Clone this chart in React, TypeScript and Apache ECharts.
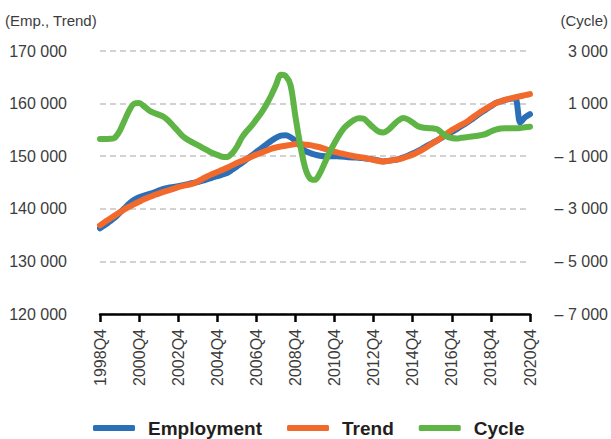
import React, { useEffect, useRef } from "react";
import * as echarts from "echarts";

const quarters: string[] = [];
for (let y = 1998; y <= 2020; y++) {
  for (let q = 1; q <= 4; q++) {
    if (y === 1998 && q < 4) continue;
    quarters.push(`${y}Q${q}`);
  }
}

const employment = [
  136300, 136900, 137600, 138300, 139200, 140100, 141000, 141700, 142200, 142500,
  142800, 143100, 143450, 143800, 144000, 144150, 144300, 144500, 144700, 144900,
  145100, 145350, 145650, 145950, 146200, 146500, 146800, 147400, 148050, 148700,
  149400, 150100, 150800, 151500, 152200, 152900, 153500, 153900, 154000, 153600,
  152900, 151900, 151000, 150600, 150300, 150100, 150000, 150000, 150000, 149950,
  149900, 149800, 149750, 149700, 149600, 149500, 149350, 149200, 149000, 149100,
  149250, 149400, 149750, 150100, 150500, 150950, 151450, 152000, 152500, 153000,
  153550, 154050, 154600, 155150, 155750, 156300, 156950, 157650, 158300, 158900,
  159500, 160100, 160400, 160700, 160900, 161000, 156400, 157400, 158000,
];

const trend = [
  136850, 137500, 138100, 138700, 139300, 139900, 140400, 140900, 141350, 141800,
  142200, 142550, 142900, 143200, 143500, 143800, 144100, 144350, 144550, 144800,
  145200, 145700, 146200, 146600, 147000, 147400, 147800, 148250, 148700, 149100,
  149500, 149900, 150300, 150650, 151050, 151400, 151650, 151850, 152000, 152150,
  152300, 152300, 152200, 152100, 151900, 151700, 151400, 151100, 150850, 150600,
  150400, 150200, 150000, 149850, 149700, 149500, 149300, 149100, 149000, 149100,
  149250, 149400, 149650, 149950, 150300, 150750, 151250, 151800, 152400, 153000,
  153650, 154300, 155000, 155500, 156000, 156500, 157200, 157850, 158500, 159050,
  159600, 160100, 160450, 160750, 161000, 161200, 161400, 161600, 161800,
];

const cycle = [
  -350, -350, -340, -300, -50, 350, 750, 1000, 1020, 900,
  750, 650, 580, 500, 350, 150, -50, -250, -380, -480,
  -580, -680, -780, -880, -950, -1020, -1030, -900, -650, -300,
  -50, 150, 400, 650, 950, 1300, 1700, 2100, 2050, 1700,
  500, -600, -1450, -1850, -1900, -1650, -1250, -850, -500, -180,
  80, 250, 380, 440, 420, 250, 80, -60, -100, 0,
  180, 350, 450, 400, 280, 150, 90, 70, 60, 30,
  -120, -250, -310, -330, -300, -280, -250, -230, -200, -150,
  -60, 10, 50, 60, 60, 60, 70, 100, 120,
];

const seriesNames = ["Employment", "Trend", "Cycle"];
const colors = ["#2b6fb8", "#f26a2b", "#5fb446"];

const FONT = '"Liberation Sans", Arial, sans-serif';
const FS = 16;
const LABEL_COLOR = "#3c3c3c";

function fmt(v: number): string {
  const a = Math.abs(Math.round(v));
  const s = a.toString().replace(/\B(?=(\d{3})+(?!\d))/g, " ");
  return v < 0 ? "\u2013 " + s : s;
}

export default function App() {
  const ref = useRef<HTMLDivElement>(null);
  useEffect(() => {
    if (!ref.current) return;
    const chart = echarts.init(ref.current, null, { renderer: "svg" });
    const lineCommon = {
      type: "line" as const,
      smooth: 0.3,
      showSymbol: false,
      symbol: "none",
    };
    chart.setOption({
      animation: false,
      grid: { left: 100, right: 81, top: 51, bottom: 125, containLabel: false },
      graphic: [
        {
          type: "text",
          left: 5,
          top: 13,
          style: { text: "(Emp., Trend)", font: `15px ${FONT}`, fill: LABEL_COLOR },
        },
        {
          type: "text",
          right: 3,
          top: 13,
          style: { text: "(Cycle)", font: `15px ${FONT}`, fill: LABEL_COLOR },
        },
      ],
      legend: {
        data: seriesNames,
        left: 93,
        top: 418,
        padding: 0,
        itemWidth: 42,
        itemHeight: 6,
        itemGap: 25,
        icon: "roundRect",
        textStyle: {
          fontFamily: '"Liberation Sans", Arial, sans-serif',
          fontWeight: "bold",
          fontSize: 19,
          color: "#231f20",
          lineHeight: 20,
          padding: [0, 0, 0, 8],
        },
      },
      xAxis: {
        type: "category",
        data: quarters,
        boundaryGap: false,
        axisLine: { show: true, onZero: false, lineStyle: { color: "#000", width: 2.5 } },
        axisTick: { show: true, interval: 7, length: 8, lineStyle: { color: "#000", width: 2.5 } },
        axisLabel: {
          interval: 7,
          rotate: 90,
          margin: 15,
          color: LABEL_COLOR,
          fontFamily: FONT,
          fontSize: FS,
        },
        splitLine: { show: false },
      },
      yAxis: [
        {
          type: "value",
          min: 120000,
          max: 170000,
          interval: 10000,
          axisLine: { show: false },
          axisTick: { show: false },
          axisLabel: {
            margin: 33,
            color: LABEL_COLOR,
            fontFamily: FONT,
            fontSize: FS,
            formatter: (v: number) => fmt(v),
          },
          splitLine: { show: true, lineStyle: { color: "#c4c4c4", width: 1.5, type: [6, 4] } },
        },
        {
          type: "value",
          min: -7000,
          max: 3000,
          alignTicks: true,
          position: "right",
          axisLine: { show: false },
          axisTick: { show: false },
          axisLabel: {
            margin: 78,
            align: "right",
            color: LABEL_COLOR,
            fontFamily: FONT,
            fontSize: FS,
            formatter: (v: number) => fmt(v),
          },
          splitLine: { show: false },
        },
      ],
      series: [
        {
          ...lineCommon,
          name: seriesNames[0],
          data: employment,
          yAxisIndex: 0,
          itemStyle: { color: colors[0] },
          lineStyle: { color: colors[0], width: 6, cap: "round", join: "round" },
        },
        {
          ...lineCommon,
          name: seriesNames[1],
          data: trend,
          yAxisIndex: 0,
          itemStyle: { color: colors[1] },
          lineStyle: { color: colors[1], width: 6, cap: "round", join: "round" },
        },
        {
          ...lineCommon,
          name: seriesNames[2],
          data: cycle,
          yAxisIndex: 1,
          itemStyle: { color: colors[2] },
          lineStyle: { color: colors[2], width: 6, cap: "round", join: "round" },
        },
      ],
    });
    return () => chart.dispose();
  }, []);
  return (
    <div
      ref={ref}
      style={{ position: "fixed", left: 0, top: 0, width: 611, height: 439, background: "#fff" }}
    />
  );
}
